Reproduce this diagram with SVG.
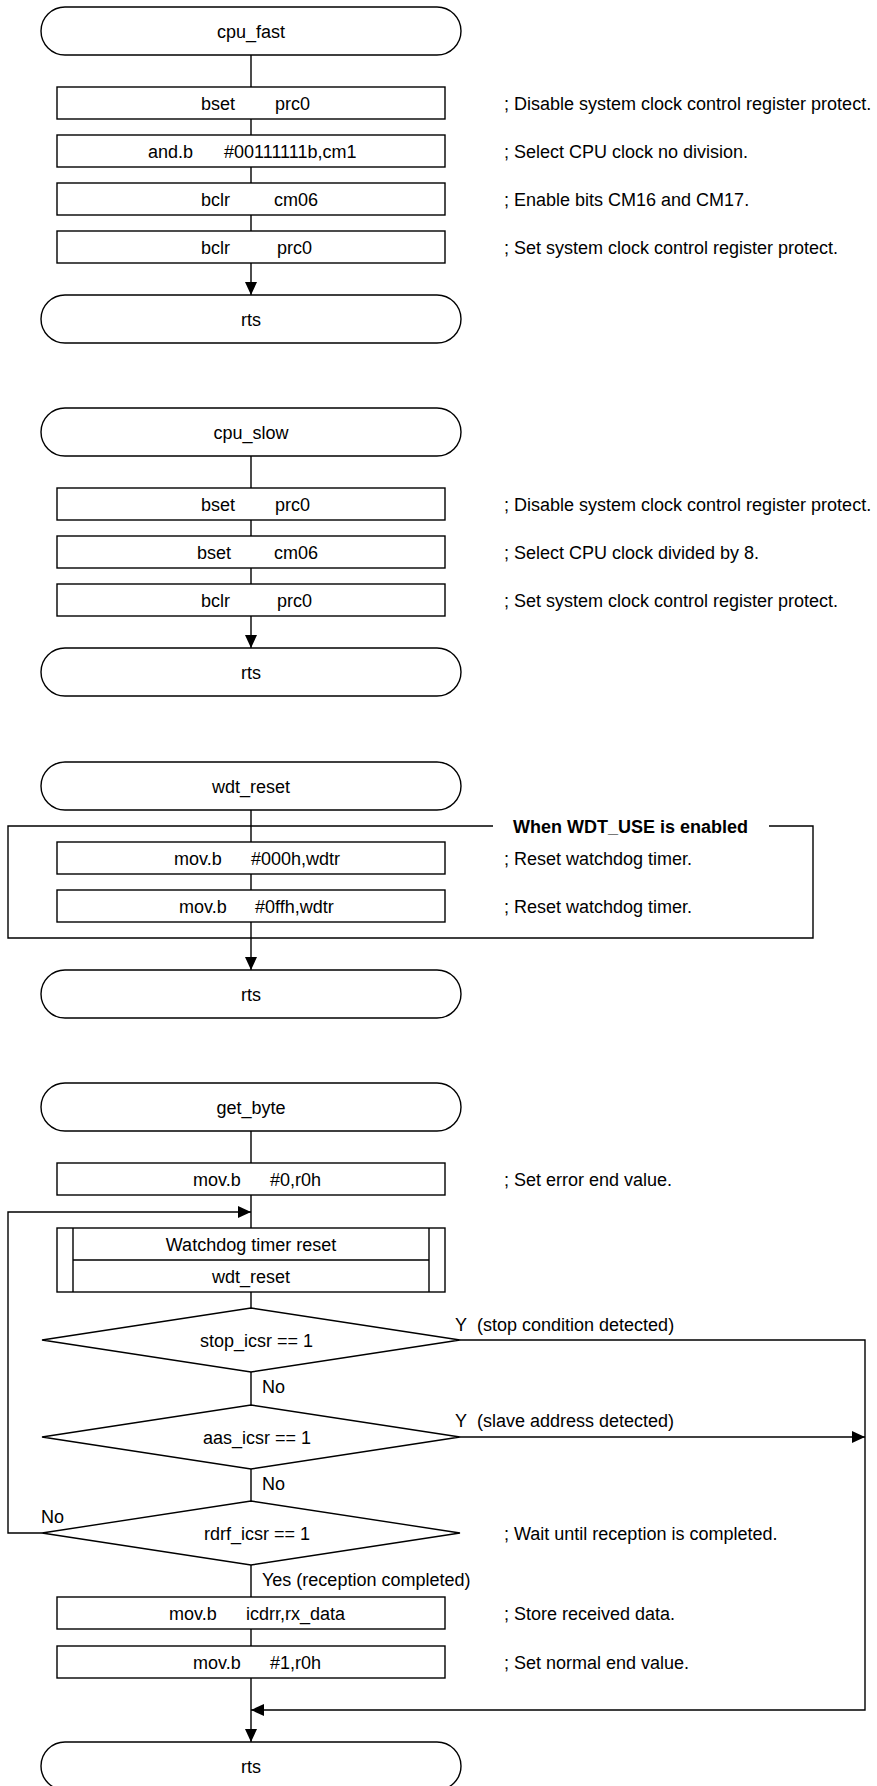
<svg xmlns="http://www.w3.org/2000/svg" width="877" height="1786" viewBox="0 0 877 1786">
  <style>
    .shape { fill: #fff; stroke: #000; stroke-width: 1.4; }
    .line { fill: none; stroke: #000; stroke-width: 1.4; }
    text { font-family: "Liberation Sans", Arial, sans-serif; font-size: 18px; fill: #000; }
    .mid { text-anchor: middle; }
    .bold { font-weight: bold; }
  </style>
  <defs>
    <marker id="arrow" markerUnits="userSpaceOnUse" markerWidth="14" markerHeight="14" refX="13" refY="6" orient="auto">
      <path d="M0,0 L13,6 L0,12 z" fill="#000"/>
    </marker>
  </defs>
  <rect width="877" height="1786" fill="#fff"/>

  <!-- connectors -->
  <g id="connectors">
    <!-- cpu_fast -->
    <path class="line" d="M251,55 V87 M251,119 V135 M251,167 V183 M251,215 V231"/>
    <path class="line" d="M251,263 V295" marker-end="url(#arrow)"/>
    <!-- cpu_slow -->
    <path class="line" d="M251,456 V488 M251,520 V536 M251,568 V584"/>
    <path class="line" d="M251,616 V648" marker-end="url(#arrow)"/>
    <!-- wdt_reset -->
    <path class="line" d="M251,810 V842 M251,874 V890"/>
    <path class="line" d="M251,922 V970" marker-end="url(#arrow)"/>
    <!-- get_byte -->
    <path class="line" d="M251,1131 V1163 M251,1195 V1228 M251,1292 V1308 M251,1372 V1405 M251,1469 V1501 M251,1565 V1597 M251,1629 V1646"/>
    <path class="line" d="M251,1678 V1742" marker-end="url(#arrow)"/>
    <!-- retry loop from rdrf_icsr "No" -->
    <path class="line" d="M42,1533 H8 V1212 H251" marker-end="url(#arrow)"/>
    <!-- stop condition exit -->
    <path class="line" d="M460,1340 H865 V1710 H251" marker-end="url(#arrow)"/>
    <!-- slave address exit -->
    <path class="line" d="M460,1437 H865" marker-end="url(#arrow)"/>
  </g>

  <!-- cpu_fast -->
  <g id="cpu_fast">
    <rect class="shape" x="41" y="7" width="420" height="48" rx="24" ry="24"/>
    <text class="mid" x="251" y="37.5">cpu_fast</text>
  </g>
  <g id="cpu_fast_bset_prc0">
    <rect class="shape" x="57" y="87" width="388" height="32"/>
    <text x="201" y="109.5">bset</text><text x="275" y="109.5">prc0</text>
    <text x="504" y="109.5">; Disable system clock control register protect.</text>
  </g>
  <g id="cpu_fast_and_cm1">
    <rect class="shape" x="57" y="135" width="388" height="32"/>
    <text x="148" y="157.5">and.b</text><text x="224" y="157.5">#00111111b,cm1</text>
    <text x="504" y="157.5">; Select CPU clock no division.</text>
  </g>
  <g id="cpu_fast_bclr_cm06">
    <rect class="shape" x="57" y="183" width="388" height="32"/>
    <text x="201" y="205.5">bclr</text><text x="274" y="205.5">cm06</text>
    <text x="504" y="205.5">; Enable bits CM16 and CM17.</text>
  </g>
  <g id="cpu_fast_bclr_prc0">
    <rect class="shape" x="57" y="231" width="388" height="32"/>
    <text x="201" y="253.5">bclr</text><text x="277" y="253.5">prc0</text>
    <text x="504" y="253.5">; Set system clock control register protect.</text>
  </g>
  <g id="cpu_fast_rts">
    <rect class="shape" x="41" y="295" width="420" height="48" rx="24" ry="24"/>
    <text class="mid" x="251" y="325.5">rts</text>
  </g>

  <!-- cpu_slow -->
  <g id="cpu_slow">
    <rect class="shape" x="41" y="408" width="420" height="48" rx="24" ry="24"/>
    <text class="mid" x="251" y="438.5">cpu_slow</text>
  </g>
  <g id="cpu_slow_bset_prc0">
    <rect class="shape" x="57" y="488" width="388" height="32"/>
    <text x="201" y="510.5">bset</text><text x="275" y="510.5">prc0</text>
    <text x="504" y="510.5">; Disable system clock control register protect.</text>
  </g>
  <g id="cpu_slow_bset_cm06">
    <rect class="shape" x="57" y="536" width="388" height="32"/>
    <text x="197" y="558.5">bset</text><text x="274" y="558.5">cm06</text>
    <text x="504" y="558.5">; Select CPU clock divided by 8.</text>
  </g>
  <g id="cpu_slow_bclr_prc0">
    <rect class="shape" x="57" y="584" width="388" height="32"/>
    <text x="201" y="606.5">bclr</text><text x="277" y="606.5">prc0</text>
    <text x="504" y="606.5">; Set system clock control register protect.</text>
  </g>
  <g id="cpu_slow_rts">
    <rect class="shape" x="41" y="648" width="420" height="48" rx="24" ry="24"/>
    <text class="mid" x="251" y="678.5">rts</text>
  </g>

  <!-- wdt_reset -->
  <g id="wdt_reset">
    <rect class="shape" x="41" y="762" width="420" height="48" rx="24" ry="24"/>
    <text class="mid" x="251" y="792.5">wdt_reset</text>
  </g>
  <g id="wdt_use_frame">
    <path class="line" d="M493,826 H8 V938 H813 V826 H769"/>
    <text class="bold" x="513" y="833">When WDT_USE is enabled</text>
  </g>
  <g id="wdt_write_000h">
    <rect class="shape" x="57" y="842" width="388" height="32"/>
    <text x="174" y="864.5">mov.b</text><text x="251" y="864.5">#000h,wdtr</text>
    <text x="504" y="864.5">; Reset watchdog timer.</text>
  </g>
  <g id="wdt_write_0ffh">
    <rect class="shape" x="57" y="890" width="388" height="32"/>
    <text x="179" y="912.5">mov.b</text><text x="255" y="912.5">#0ffh,wdtr</text>
    <text x="504" y="912.5">; Reset watchdog timer.</text>
  </g>
  <g id="wdt_reset_rts">
    <rect class="shape" x="41" y="970" width="420" height="48" rx="24" ry="24"/>
    <text class="mid" x="251" y="1000.5">rts</text>
  </g>

  <!-- get_byte -->
  <g id="get_byte">
    <rect class="shape" x="41" y="1083" width="420" height="48" rx="24" ry="24"/>
    <text class="mid" x="251" y="1113.5">get_byte</text>
  </g>
  <g id="get_byte_error_value">
    <rect class="shape" x="57" y="1163" width="388" height="32"/>
    <text x="193" y="1185.5">mov.b</text><text x="270" y="1185.5">#0,r0h</text>
    <text x="504" y="1185.5">; Set error end value.</text>
  </g>
  <g id="call_wdt_reset">
    <rect class="shape" x="57" y="1228" width="388" height="64"/>
    <path class="line" d="M73,1228 V1292 M429,1228 V1292 M73,1260 H429"/>
    <text class="mid" x="251" y="1250.5">Watchdog timer reset</text>
    <text class="mid" x="251" y="1282.5">wdt_reset</text>
  </g>
  <g id="check_stop">
    <path class="shape" d="M251,1308 L460,1340 L251,1372 L42,1340 Z"/>
    <text x="200" y="1346.5">stop_icsr == 1</text>
    <text x="455" y="1331">Y</text><text x="477" y="1331">(stop condition detected)</text>
    <text x="262" y="1393">No</text>
  </g>
  <g id="check_aas">
    <path class="shape" d="M251,1405 L460,1437 L251,1469 L42,1437 Z"/>
    <text x="203" y="1443.5">aas_icsr == 1</text>
    <text x="455" y="1427">Y</text><text x="477" y="1427">(slave address detected)</text>
    <text x="262" y="1490">No</text>
  </g>
  <g id="check_rdrf">
    <path class="shape" d="M251,1501 L460,1533 L251,1565 L42,1533 Z"/>
    <text x="204" y="1539.5">rdrf_icsr == 1</text>
    <text x="41" y="1523">No</text>
    <text x="504" y="1539.5">; Wait until reception is completed.</text>
    <text x="262" y="1586">Yes (reception completed)</text>
  </g>
  <g id="store_rx_data">
    <rect class="shape" x="57" y="1597" width="388" height="32"/>
    <text x="169" y="1619.5">mov.b</text><text x="246" y="1619.5">icdrr,rx_data</text>
    <text x="504" y="1619.5">; Store received data.</text>
  </g>
  <g id="get_byte_normal_value">
    <rect class="shape" x="57" y="1646" width="388" height="32"/>
    <text x="193" y="1668.5">mov.b</text><text x="270" y="1668.5">#1,r0h</text>
    <text x="504" y="1668.5">; Set normal end value.</text>
  </g>
  <g id="get_byte_rts">
    <rect class="shape" x="41" y="1742" width="420" height="48" rx="24" ry="24"/>
    <text class="mid" x="251" y="1772.5">rts</text>
  </g>
</svg>
